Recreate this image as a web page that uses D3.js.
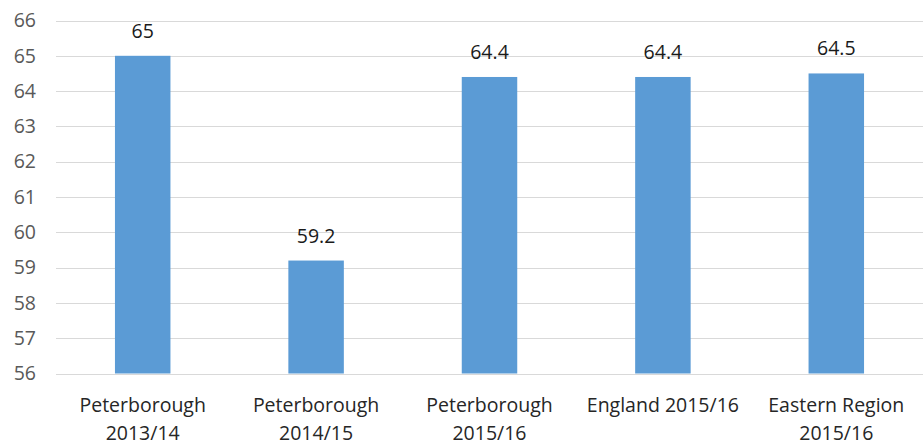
<!DOCTYPE html>
<html>
<head>
<meta charset="utf-8">
<script src="https://cdn.jsdelivr.net/npm/d3@7"></script>
<style>
  html, body { margin: 0; padding: 0; background: #fff; }
  svg { display: block; font-family: "Open Sans", "Liberation Sans", sans-serif; }
</style>
</head>
<body>
<svg id="chart" width="923" height="446"></svg>
<script>
// Chart data
const categories = ["Peterborough 2013/14", "Peterborough 2014/15", "Peterborough 2015/16", "England 2015/16", "Eastern Region 2015/16"];
const values = [65, 59.2, 64.4, 64.4, 64.5];
const valueLabels = ["65", "59.2", "64.4", "64.4", "64.5"];
const yTicks = [56, 57, 58, 59, 60, 61, 62, 63, 64, 65, 66];

const FS = 19.5;
const svg = d3.select("#chart");
const margin = { left: 56, right: 0, top: 20.5, bottom: 72.5 };
const W = 923, H = 446;

const x = d3.scaleBand().domain(categories).range([margin.left, W - margin.right]).paddingInner(0.68).paddingOuter(0.34);
const y = d3.scaleLinear().domain([56, 66]).range([H - margin.bottom, margin.top]);

// Gridlines
svg.append("g").selectAll("line").data(yTicks).join("line")
  .attr("x1", margin.left).attr("x2", W)
  .attr("y1", d => Math.round(y(d)) + 0.5).attr("y2", d => Math.round(y(d)) + 0.5)
  .attr("stroke", "#d9d9d9").attr("stroke-width", 1);

// Y axis labels
const yAxis = d3.axisLeft(y).tickValues(yTicks).tickSize(0).tickPadding(0);
const gy = svg.append("g").attr("transform", "translate(36,0)").call(yAxis);
gy.select(".domain").remove();
gy.selectAll("text").attr("font-size", FS).attr("fill", "#595959").attr("font-family", "Open Sans, sans-serif");

// Bars
svg.append("g").selectAll("rect").data(categories).join("rect")
  .attr("x", d => x(d))
  .attr("width", x.bandwidth())
  .attr("y", (d, i) => y(values[i]))
  .attr("height", (d, i) => y(56) - y(values[i]))
  .attr("fill", "#5b9bd5");

// Value labels
svg.append("g").selectAll("text").data(categories).join("text")
  .attr("x", d => x(d) + x.bandwidth() / 2)
  .attr("y", (d, i) => y(values[i]) - 18)
  .attr("text-anchor", "middle")
  .attr("font-size", FS)
  .attr("fill", "#1a1a1a")
  .text((d, i) => valueLabels[i]);

// Category labels, wrapped to the band step
const step = x.step();
const gx = svg.append("g");
categories.forEach(c => {
  const cx = x(c) + x.bandwidth() / 2;
  const t = gx.append("text").attr("text-anchor", "middle").attr("font-size", FS).attr("fill", "#262626");
  const words = c.split(" ");
  let lines = [], cur = [];
  const probe = svg.append("text").attr("font-size", FS);
  words.forEach(w => {
    const test = cur.concat([w]).join(" ");
    probe.text(test);
    if (cur.length && probe.node().getComputedTextLength() > step - 4) {
      lines.push(cur.join(" "));
      cur = [w];
    } else cur.push(w);
  });
  lines.push(cur.join(" "));
  probe.remove();
  lines.forEach((l, i) => {
    t.append("tspan").attr("x", cx).attr("y", 412 + i * 28).text(l);
  });
});
</script>
</body>
</html>
